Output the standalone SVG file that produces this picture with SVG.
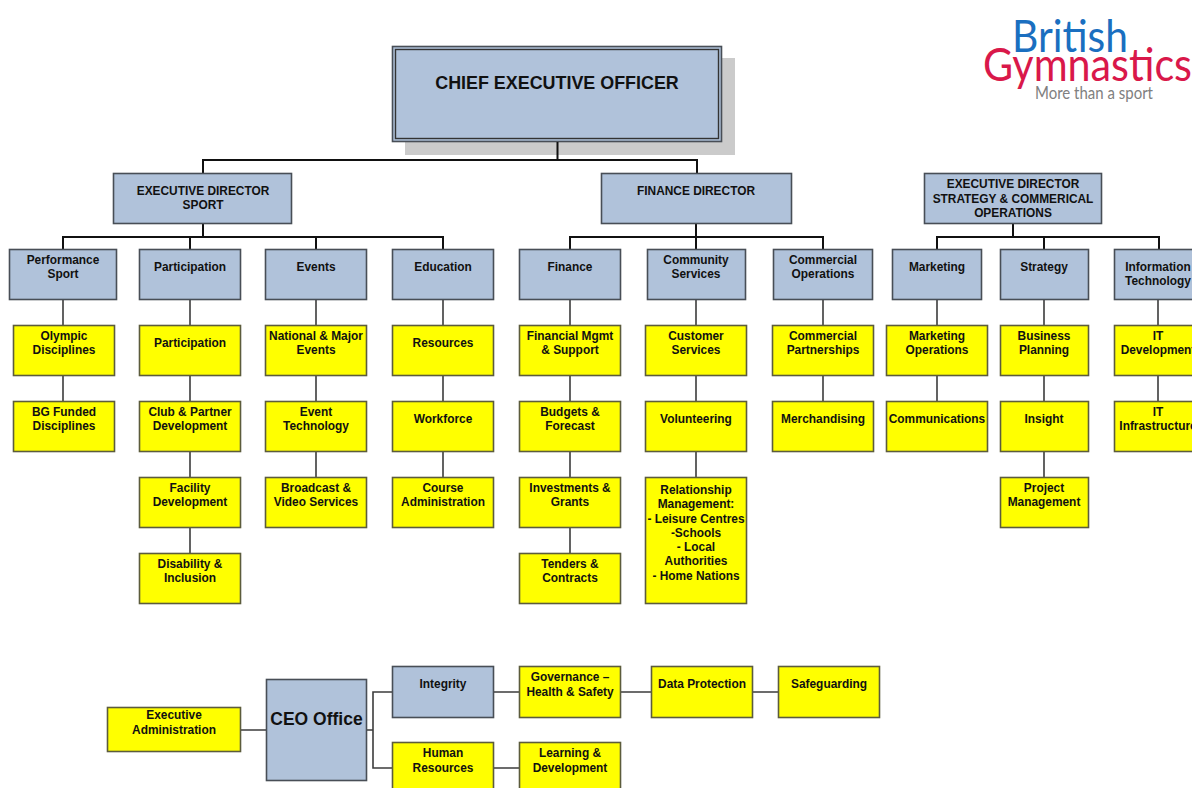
<svg xmlns="http://www.w3.org/2000/svg" width="1192" height="788" viewBox="0 0 1192 788">
<style>
text{font-family:"Liberation Sans",Arial,sans-serif;font-weight:bold;font-size:11.9px;fill:#111;text-anchor:middle}
.b{fill:#b0c2da;stroke:#484e56;stroke-width:1.6}
.y{fill:#ffff00;stroke:#5c5c3c;stroke-width:1.6}
.c{fill:none;stroke:#111;stroke-width:2}
.g{fill:none;stroke:#3c3c3c;stroke-width:1.6}
.logo{font-family:"Lato","Open Sans",sans-serif;font-weight:400;text-anchor:start}
</style>
<rect x="0" y="0" width="1192" height="788" fill="#ffffff"/>
<g id="ceo"><rect x="405" y="58" width="330" height="97" fill="#cbcbcb"/><rect x="392.500" y="46.500" width="329" height="95" class="b"/><rect x="395.500" y="49.500" width="323" height="89" fill="#b0c2da" stroke="#333" stroke-width="1.4"/><text x="557" y="88.500" style="font-size:17.900px">CHIEF EXECUTIVE OFFICER</text></g>
<g id="connectors">
<path class="c" d="M557.500 142V160M203 173V160H697V173"/>
<path class="c" d="M203 224V237M63 249V237H443V249M190 237V249M316 237V249"/>
<path class="c" d="M696 224V237M570 249V237H823V249M696 237V249"/>
<path class="c" d="M1013 224V237M937 249V237H1159V249M1044 237V249"/>
<path class="g" d="M63 300V401M190 300V553M316 300V477M443 300V477M570 300V553M696 300V477M823 300V401M937 300V401M1044 300V477M1158 300V401"/>
<path class="g" d="M241 730H266M367 730H373M392 692H373V768H392M494 692H519M494 768H519M621 692H651M753 692H778"/>
</g>
<g id="ed-sport"><rect x="113.500" y="173.500" width="178" height="50" class="b"/><text x="203" y="194.500">EXECUTIVE DIRECTOR</text><text x="203" y="209">SPORT</text></g>
<g id="finance-director"><rect x="601.500" y="173.500" width="190" height="50" class="b"/><text x="696" y="194.500">FINANCE DIRECTOR</text></g>
<g id="ed-strategy"><rect x="924.500" y="173.500" width="177" height="50" class="b"/><text x="1013" y="188">EXECUTIVE DIRECTOR</text><text x="1013" y="202.500">STRATEGY &amp; COMMERICAL</text><text x="1013" y="216.500">OPERATIONS</text></g>

<g id="performance-sport"><rect x="9.500" y="249.500" width="107" height="50" class="b"/><text x="63" y="264">Performance</text><text x="63" y="278">Sport</text></g>
<g id="participation-head"><rect x="139.500" y="249.500" width="101" height="50" class="b"/><text x="190" y="270.500">Participation</text></g>
<g id="events"><rect x="265.500" y="249.500" width="101" height="50" class="b"/><text x="316" y="270.500">Events</text></g>
<g id="education"><rect x="392.500" y="249.500" width="101" height="50" class="b"/><text x="443" y="270.500">Education</text></g>
<g id="finance"><rect x="519.500" y="249.500" width="101" height="50" class="b"/><text x="570" y="270.500">Finance</text></g>
<g id="community-services"><rect x="647.500" y="249.500" width="98" height="50" class="b"/><text x="696" y="264">Community</text><text x="696" y="278">Services</text></g>
<g id="commercial-operations"><rect x="773.500" y="249.500" width="99" height="50" class="b"/><text x="823" y="264">Commercial</text><text x="823" y="278">Operations</text></g>
<g id="marketing"><rect x="892.500" y="249.500" width="89" height="50" class="b"/><text x="937" y="270.500">Marketing</text></g>
<g id="strategy"><rect x="1000.500" y="249.500" width="88" height="50" class="b"/><text x="1044" y="270.500">Strategy</text></g>
<g id="it"><rect x="1114.500" y="249.500" width="88" height="50" class="b"/><text x="1158" y="270.500">Information</text><text x="1158" y="285">Technology</text></g>

<g id="olympic"><rect x="13.500" y="325.500" width="101" height="50" class="y"/><text x="64" y="340">Olympic</text><text x="64" y="354">Disciplines</text></g>
<g id="bg-funded"><rect x="13.500" y="401.500" width="101" height="50" class="y"/><text x="64" y="416">BG Funded</text><text x="64" y="430">Disciplines</text></g>
<g id="participation"><rect x="139.500" y="325.500" width="101" height="50" class="y"/><text x="190" y="346.500">Participation</text></g>
<g id="club-partner"><rect x="139.500" y="401.500" width="101" height="50" class="y"/><text x="190" y="416">Club &amp; Partner</text><text x="190" y="430">Development</text></g>
<g id="facility"><rect x="139.500" y="477.500" width="101" height="50" class="y"/><text x="190" y="492">Facility</text><text x="190" y="506">Development</text></g>
<g id="disability"><rect x="139.500" y="553.500" width="101" height="50" class="y"/><text x="190" y="568">Disability &amp;</text><text x="190" y="582">Inclusion</text></g>
<g id="national-events"><rect x="265.500" y="325.500" width="101" height="50" class="y"/><text x="316" y="340">National &amp; Major</text><text x="316" y="354">Events</text></g>
<g id="event-tech"><rect x="265.500" y="401.500" width="101" height="50" class="y"/><text x="316" y="416">Event</text><text x="316" y="430">Technology</text></g>
<g id="broadcast"><rect x="265.500" y="477.500" width="101" height="50" class="y"/><text x="316" y="492">Broadcast &amp;</text><text x="316" y="506">Video Services</text></g>
<g id="resources"><rect x="392.500" y="325.500" width="101" height="50" class="y"/><text x="443" y="346.500">Resources</text></g>
<g id="workforce"><rect x="392.500" y="401.500" width="101" height="50" class="y"/><text x="443" y="422.500">Workforce</text></g>
<g id="course-admin"><rect x="392.500" y="477.500" width="101" height="50" class="y"/><text x="443" y="492">Course</text><text x="443" y="506">Administration</text></g>
<g id="financial-mgmt"><rect x="519.500" y="325.500" width="101" height="50" class="y"/><text x="570" y="340">Financial Mgmt</text><text x="570" y="354">&amp; Support</text></g>
<g id="budgets"><rect x="519.500" y="401.500" width="101" height="50" class="y"/><text x="570" y="416">Budgets &amp;</text><text x="570" y="430">Forecast</text></g>
<g id="investments"><rect x="519.500" y="477.500" width="101" height="50" class="y"/><text x="570" y="492">Investments &amp;</text><text x="570" y="506">Grants</text></g>
<g id="tenders"><rect x="519.500" y="553.500" width="101" height="50" class="y"/><text x="570" y="568">Tenders &amp;</text><text x="570" y="582">Contracts</text></g>
<g id="customer-services"><rect x="645.500" y="325.500" width="101" height="50" class="y"/><text x="696" y="340">Customer</text><text x="696" y="354">Services</text></g>
<g id="volunteering"><rect x="645.500" y="401.500" width="101" height="50" class="y"/><text x="696" y="422.500">Volunteering</text></g>
<g id="relationship"><rect x="645.500" y="477.500" width="101" height="126" class="y"/><text x="696" y="494">Relationship</text><text x="696" y="508">Management:</text><text x="696" y="523">- Leisure Centres</text><text x="696" y="536.500">-Schools</text><text x="696" y="551">- Local</text><text x="696" y="565">Authorities</text><text x="696" y="579.500">- Home Nations</text></g>
<g id="commercial-partnerships"><rect x="772.500" y="325.500" width="101" height="50" class="y"/><text x="823" y="340">Commercial</text><text x="823" y="354">Partnerships</text></g>
<g id="merchandising"><rect x="772.500" y="401.500" width="101" height="50" class="y"/><text x="823" y="422.500">Merchandising</text></g>
<g id="marketing-ops"><rect x="886.500" y="325.500" width="101" height="50" class="y"/><text x="937" y="340">Marketing</text><text x="937" y="354">Operations</text></g>
<g id="communications"><rect x="886.500" y="401.500" width="101" height="50" class="y"/><text x="937" y="422.500">Communications</text></g>
<g id="business-planning"><rect x="1000.500" y="325.500" width="88" height="50" class="y"/><text x="1044" y="340">Business</text><text x="1044" y="354">Planning</text></g>
<g id="insight"><rect x="1000.500" y="401.500" width="88" height="50" class="y"/><text x="1044" y="422.500">Insight</text></g>
<g id="project-management"><rect x="1000.500" y="477.500" width="88" height="50" class="y"/><text x="1044" y="492">Project</text><text x="1044" y="506">Management</text></g>
<g id="it-development"><rect x="1114.500" y="325.500" width="88" height="50" class="y"/><text x="1158" y="340">IT</text><text x="1158" y="354">Development</text></g>
<g id="it-infrastructure"><rect x="1114.500" y="401.500" width="88" height="50" class="y"/><text x="1158" y="416">IT</text><text x="1158" y="430">Infrastructure</text></g>

<g id="exec-admin"><rect x="107.500" y="707.500" width="133" height="44" class="y"/><text x="174" y="719">Executive</text><text x="174" y="733.500">Administration</text></g>
<g id="ceo-office"><rect x="266.500" y="679.500" width="100" height="101" class="b"/><text x="316.500" y="724.500" style="font-size:17.500px">CEO Office</text></g>
<g id="integrity"><rect x="392.500" y="666.500" width="101" height="51" class="b"/><text x="443" y="688">Integrity</text></g>
<g id="human-resources"><rect x="392.500" y="742.500" width="101" height="51" class="y"/><text x="443" y="757">Human</text><text x="443" y="771.500">Resources</text></g>
<g id="governance"><rect x="519.500" y="666.500" width="101" height="51" class="y"/><text x="570" y="681">Governance –</text><text x="570" y="695.500">Health &amp; Safety</text></g>
<g id="learning"><rect x="519.500" y="742.500" width="101" height="51" class="y"/><text x="570" y="757">Learning &amp;</text><text x="570" y="771.500">Development</text></g>
<g id="data-protection"><rect x="651.500" y="666.500" width="101" height="51" class="y"/><text x="702" y="688">Data Protection</text></g>
<g id="safeguarding"><rect x="778.500" y="666.500" width="101" height="51" class="y"/><text x="829" y="688">Safeguarding</text></g>

<g id="logo">
<text class="logo" x="1012" y="52" textLength="116" lengthAdjust="spacingAndGlyphs" style="font-size:44px;fill:#1a6fc0">British</text>
<text class="logo" x="983" y="81" textLength="209" lengthAdjust="spacingAndGlyphs" style="font-size:46px;fill:#d9184a">Gymnastics</text>
<text class="logo" x="1035" y="99" textLength="118" lengthAdjust="spacingAndGlyphs" style="font-size:17px;fill:#808080">More than a sport</text>
</g>
</svg>
